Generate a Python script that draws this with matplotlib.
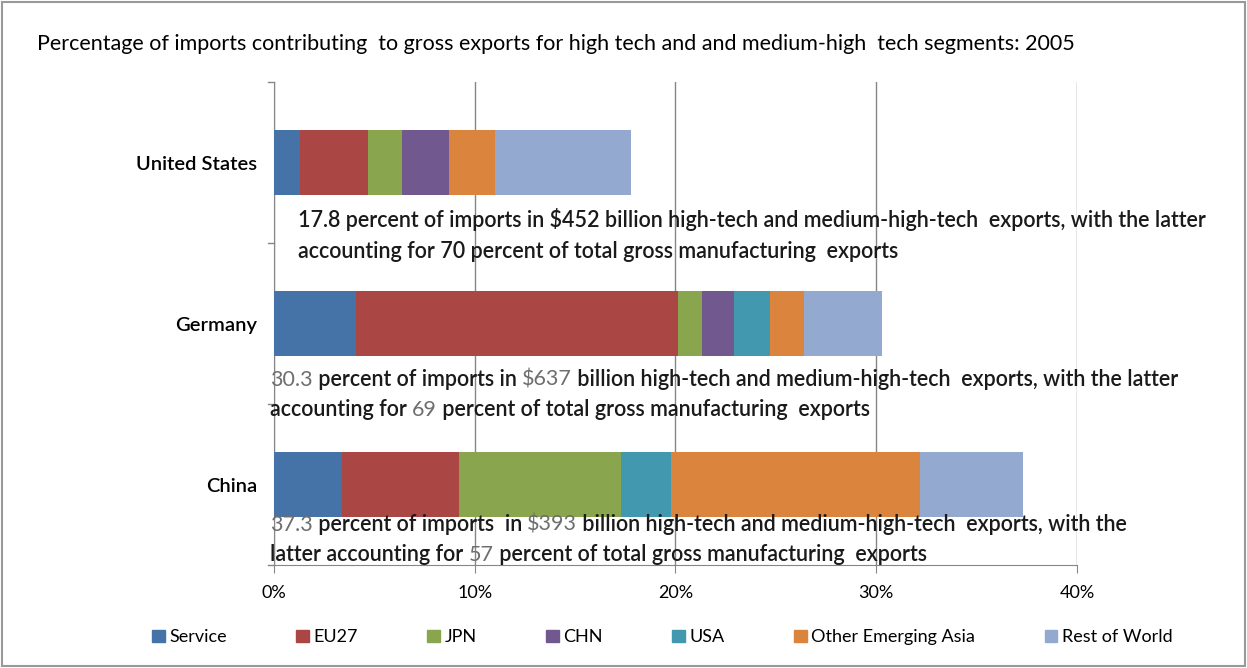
import matplotlib.pyplot as plt
from matplotlib.patches import Rectangle
from matplotlib.offsetbox import TextArea, HPacker, VPacker, AnnotationBbox

plt.rcParams['font.family'] = ['Lato', 'DejaVu Sans']

countries = ["United States", "Germany", "China"]
segments = ["Service", "EU27", "JPN", "CHN", "USA", "Other Emerging Asia", "Rest of World"]
colors = ["#4572A7", "#AA4643", "#89A54E", "#71588F", "#4198AF", "#DB843D", "#93A9CF"]

# share of imports (percent) by source, per country
shares = {
    "United States": [1.3, 3.4, 1.7, 2.3, 0.0, 2.3, 6.8],
    "Germany":       [4.1, 16.0, 1.2, 1.6, 1.8, 1.7, 3.9],
    "China":         [3.4, 5.8, 8.1, 0.0, 2.5, 12.4, 5.1],
}
totals = ["17.8", "30.3", "37.3"]
export_value = ["$452", "$637", "$393"]
manuf_share = ["70", "69", "57"]

fig = plt.figure(figsize=(12.47, 6.68), dpi=100)
ax = fig.add_axes([0.2197, 0.154, 0.644, 0.723])

ypos = [2, 1, 0]
for c, y in zip(countries, ypos):
    left = 0
    for val, col in zip(shares[c], colors):
        if val > 0:
            ax.barh(y, val, left=left, height=0.4, color=col, zorder=3)
        left += val


def note_box(parts_lines, size=15.5):
    rows = []
    for parts in parts_lines:
        boxes = []
        for txt, num in parts:
            if num:
                props = dict(color="#6e6e6e", fontsize=size, fontweight="normal")
            else:
                props = dict(color="#1a1a1a", fontsize=size, fontweight="semibold")
            boxes.append(TextArea(txt, textprops=props))
        rows.append(HPacker(children=boxes, pad=0, sep=0, align="baseline"))
    return VPacker(children=rows, pad=0, sep=7, align="left")


# US numbers are printed black, the other two in grey
notes = [
    [[(totals[0] + " percent of imports in " + export_value[0] +
       " billion high-tech and medium-high-tech  exports, with the latter", False)],
     [("accounting for " + manuf_share[0] + " percent of total gross manufacturing  exports", False)]],
    [[(totals[1], True), (" percent of imports in ", False), (export_value[1], True),
      (" billion high-tech and medium-high-tech  exports, with the latter", False)],
     [("accounting for ", False), (manuf_share[1], True),
      (" percent of total gross manufacturing  exports", False)]],
    [[(totals[2], True), (" percent of imports  in ", False), (export_value[2], True),
      (" billion high-tech and medium-high-tech  exports, with the", False)],
     [("latter accounting for ", False), (manuf_share[2], True),
      (" percent of total gross manufacturing  exports", False)]],
]
note_x = [1.2, -0.2, -0.2]
note_y = [1.55, 0.56, -0.34]
for n, x, y in zip(notes, note_x, note_y):
    ab = AnnotationBbox(note_box(n), (x, y), xycoords="data", box_alignment=(0, 0.5),
                        frameon=False, pad=0, annotation_clip=False, zorder=4)
    ax.add_artist(ab)

ax.set_xlim(0, 40)
ax.set_ylim(-0.5, 2.5)
ax.set_xticks([0, 10, 20, 30, 40])
ax.set_xticklabels(["0%", "10%", "20%", "30%", "40%"], fontsize=13)
ax.set_yticks([0, 1, 2])
ax.set_yticklabels(countries[::-1], fontsize=14.5, fontweight="semibold")
ax.tick_params(axis="y", length=0, pad=12)
ax.tick_params(axis="x", length=6, color="#868686", pad=8)
for yb in [-0.5, 0.5, 1.5, 2.5]:
    ax.plot([-0.3, 0], [yb, yb], color="#868686", lw=1, clip_on=False)

ax.grid(axis="x", color="#868686", lw=1, zorder=0)
for s in ["top", "right"]:
    ax.spines[s].set_visible(False)
ax.spines["left"].set_color("#868686")
ax.spines["bottom"].set_color("#868686")

fig.text(0.03, 0.934,
         "Percentage of imports contributing  to gross exports for high tech and and medium-high  tech segments: 2005",
         ha="left", va="center", fontsize=15.5)

handles = [Rectangle((0, 0), 1, 1, color=col) for col in colors]
fig.legend(handles, segments, loc="center", bbox_to_anchor=(0.531, 0.046), ncol=7,
           frameon=False, fontsize=13, handlelength=0.7, handleheight=0.7,
           handletextpad=0.25, columnspacing=3.85)

fig.patches.append(Rectangle((0.002, 0.003), 0.996, 0.994, transform=fig.transFigure,
                             fill=False, edgecolor="#999999", lw=1.5))

fig.savefig("out.png", dpi=100)
